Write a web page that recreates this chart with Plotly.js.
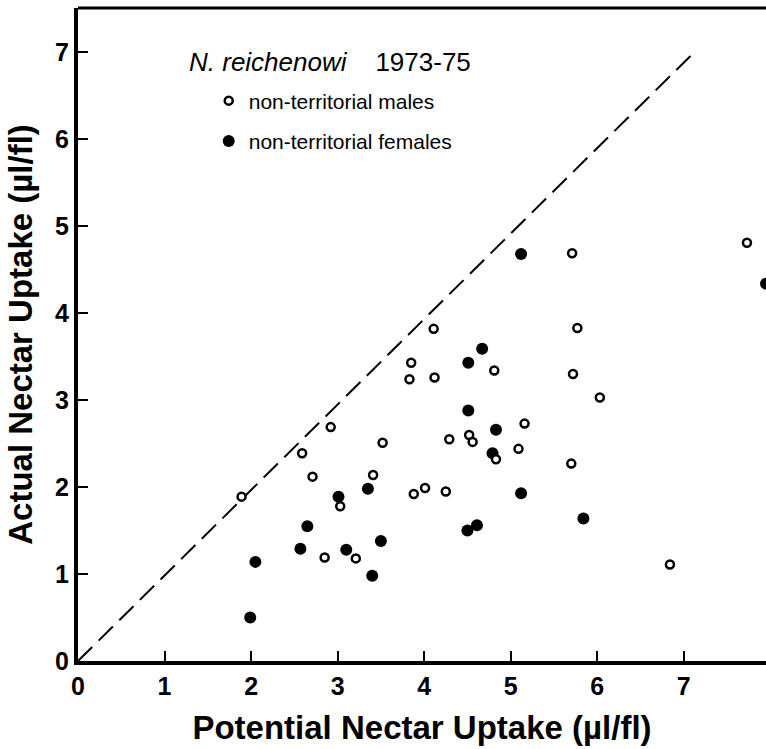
<!DOCTYPE html>
<html>
<head>
<meta charset="utf-8">
<script src="https://cdn.plot.ly/plotly-3.0.1.min.js"></script>
<style>html,body{margin:0;padding:0;background:#fff;}#chart{width:766px;height:749px;}</style>
</head>
<body>
<div id="chart"></div>
<script>
// Non-territorial males (open circles)
var maleX = [1.89, 2.92, 2.59, 2.71, 3.03, 2.85, 3.21, 3.41, 3.52, 4.11, 3.85, 3.83, 4.12, 4.81, 5.16, 4.29, 4.52, 4.56, 4.83, 5.09, 3.88, 4.01, 4.25, 5.71, 7.73, 5.77, 5.72, 6.03, 5.70, 6.84];
var maleY = [1.89, 2.69, 2.39, 2.12, 1.78, 1.19, 1.18, 2.14, 2.51, 3.82, 3.43, 3.24, 3.26, 3.34, 2.73, 2.55, 2.60, 2.52, 2.32, 2.44, 1.92, 1.99, 1.95, 4.69, 4.81, 3.83, 3.30, 3.03, 2.27, 1.11];
// Non-territorial females (filled circles)
var femaleX = [3.01, 3.35, 2.65, 2.57, 3.10, 2.05, 1.99, 3.40, 3.50, 4.67, 4.51, 4.51, 4.83, 4.79, 5.12, 4.50, 4.61, 5.12, 7.95, 5.84];
var femaleY = [1.89, 1.98, 1.55, 1.29, 1.28, 1.14, 0.50, 0.98, 1.38, 3.59, 3.43, 2.88, 2.66, 2.39, 1.93, 1.50, 1.56, 4.68, 4.34, 1.64];
// Dashed reference line (actual = potential)
var lineX = [0, 7.14];
var lineY = [0, 7.02];
var tickVals = [0, 1, 2, 3, 4, 5, 6, 7];
var tickText = ['0', '1', '2', '3', '4', '5', '6', '7'];
var headerText = '<i>N. reichenowi</i>\u00a0\u00a0\u00a0 1973-75';
var maleName = 'non-territorial males';
var femaleName = 'non-territorial females';
var xTitle = 'Potential Nectar Uptake (µl/fl)';
var yTitle = 'Actual Nectar Uptake (µl/fl)';

var FONT = 'Liberation Sans, Arial, Helvetica, sans-serif';

var traces = [
  {x: lineX, y: lineY, mode: 'lines', type: 'scatter', showlegend: false, hoverinfo: 'skip',
   line: {color: 'black', width: 2, dash: '20px,9px'}},
  {x: femaleX, y: femaleY, mode: 'markers', type: 'scatter', name: femaleName, legendgroup: 'f', legendrank: 2,
   marker: {symbol: 'circle', size: 12, color: 'black', line: {width: 0}}},
  {x: maleX, y: maleY, mode: 'markers', type: 'scatter', name: maleName, legendgroup: 'm', legendrank: 1,
   marker: {symbol: 'circle', size: 8, color: 'white', line: {width: 2.5, color: 'black'}}}
];

var layout = {
  width: 766, height: 749,
  margin: {l: 78, r: 0, t: 8, b: 88, pad: 0},
  paper_bgcolor: 'white', plot_bgcolor: 'white',
  font: {family: FONT, color: 'black'},
  showlegend: true,
  legend: {
    x: 0.19, y: 0.889, xanchor: 'left', yanchor: 'top',
    bgcolor: 'rgba(0,0,0,0)', borderwidth: 0,
    font: {family: FONT, size: 21, color: 'black'},
    tracegroupgap: 10, traceorder: 'grouped'
  },
  annotations: [
    {text: headerText, xref: 'paper', yref: 'paper', x: 0.158, y: 0.917, xanchor: 'left', yanchor: 'middle',
     showarrow: false, font: {family: FONT, size: 26, color: 'black'}}
  ],
  xaxis: {
    range: [0, 7.95], tickvals: tickVals, ticktext: tickText,
    showgrid: false, zeroline: false, showline: true, linecolor: 'black', linewidth: 4,
    ticks: 'inside', ticklen: 10, tickwidth: 2, tickcolor: 'black',
    tickfont: {family: FONT, size: 25, weight: 'bold', color: 'black'},
    title: {text: xTitle, font: {family: FONT, size: 33, weight: 'bold', color: 'black'}, standoff: 18},
    fixedrange: true
  },
  yaxis: {
    range: [0, 7.51], tickvals: tickVals, ticktext: tickText,
    showgrid: false, zeroline: false, showline: true, linecolor: 'black', linewidth: 4,
    ticks: 'inside', ticklen: 10, tickwidth: 2, tickcolor: 'black',
    tickfont: {family: FONT, size: 25, weight: 'bold', color: 'black'},
    title: {text: yTitle, font: {family: FONT, size: 33, weight: 'bold', color: 'black'}, standoff: 14},
    fixedrange: true
  },
  shapes: [
    {type: 'line', xref: 'paper', yref: 'paper', x0: 0, x1: 1, y0: 1, y1: 1, line: {color: 'black', width: 3}}
  ]
};

Plotly.newPlot('chart', traces, layout, {staticPlot: true, displayModeBar: false});
</script>
</body>
</html>
